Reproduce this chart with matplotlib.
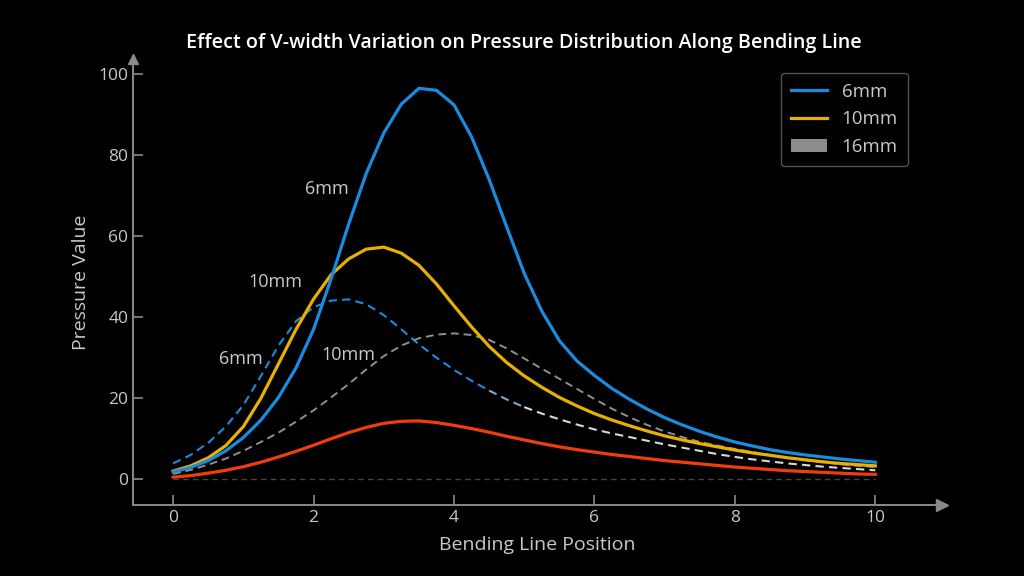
import numpy as np
import matplotlib
matplotlib.use('Agg')
from matplotlib import pyplot as plt
from matplotlib.lines import Line2D
from matplotlib.patches import Patch

plt.rcParams['font.family'] = ['Open Sans', 'DejaVu Sans']

# bending line position samples (0 .. 10, step 0.25)
pos = [i * 0.25 for i in range(41)]

# solid curves
v6 = [1.8, 2.9, 4.6, 7.0, 10.3, 14.6, 20.2, 27.5, 37, 49.5,
      63, 75.5, 85.5, 92.6, 96.5, 96.0, 92.4, 84.5, 74, 62.3,
      50.8, 41.5, 34.2, 29.2, 25.6, 22.4, 19.7, 17.3, 15.2, 13.4,
      11.8, 10.4, 9.2, 8.2, 7.3, 6.6, 6.0, 5.5, 5.0, 4.6, 4.2]
v10 = [2.0, 3.3, 5.3, 8.3, 13.0, 20.0, 28.5, 37, 44.5, 50.5,
       54.4, 56.8, 57.3, 55.8, 52.8, 48.2, 42.8, 37.6, 32.8, 28.8,
       25.5, 22.7, 20.2, 18.1, 16.2, 14.6, 13.2, 11.9, 10.7, 9.7,
       8.8, 8.0, 7.2, 6.5, 5.9, 5.3, 4.8, 4.3, 3.9, 3.6, 3.3]
v16 = [0.5, 0.9, 1.5, 2.2, 3.1, 4.2, 5.5, 6.9, 8.4, 10.0,
       11.5, 12.8, 13.8, 14.3, 14.4, 14.0, 13.3, 12.5, 11.6, 10.6,
       9.7, 8.8, 8.0, 7.3, 6.7, 6.1, 5.6, 5.1, 4.6, 4.2,
       3.8, 3.4, 3.0, 2.7, 2.4, 2.1, 1.9, 1.7, 1.5, 1.3, 1.2]

# dashed reference curves
d6 = [3.9, 6.0, 9.0, 13.0, 18.3, 25.5, 33, 39, 42.5, 44.1,
      44.4, 43.2, 40.5, 37, 33.3, 30, 27, 24.3, 21.9, 19.7,
      17.8, 16.2, 14.8, 13.5, 12.3, 11.3, 10.4, 9.5, 8.6, 7.8,
      7.0, 6.2, 5.5, 4.9, 4.4, 3.9, 3.5, 3.1, 2.8, 2.5, 2.2]
d10 = [1.3, 2.3, 3.6, 5.1, 7.0, 9.2, 11.5, 14.2, 17, 20.2,
       23.5, 27.1, 30.4, 33, 34.8, 35.7, 36, 35.6, 34.4, 32.3,
       29.8, 27.3, 24.8, 22.3, 19.8, 17.4, 15.3, 13.4, 11.8, 10.4,
       9.2, 8.3, 7.5, 6.7, 6.0, 5.3, 4.7, 4.2, 3.7, 3.3, 3.0]
zero = [0] * len(pos)

legend_labels = ['6mm', '10mm', '16mm']
xticks = [0, 2, 4, 6, 8, 10]
yticks = [0, 20, 40, 60, 80, 100]

c_blue = '#1a8ce0'
c_yellow = '#e8b000'
c_red = '#f23c0c'
c_axis = '#8a8a8a'
c_text = '#c8c8c8'

fig = plt.figure(figsize=(10.24, 5.76), dpi=100, facecolor='black')
ax = fig.add_axes([0.130, 0.123, 0.79, 0.775], facecolor='black')

# blue dash fades to white between x = 4.5 and 5
ax.plot(pos, zero, color='#444444', lw=1, ls=(0, (4, 3)))
ax.plot(pos[:19], d6[:19], color=c_blue, lw=1.5, ls=(0, (4, 2.5)))
ax.plot(pos[18:21], d6[18:21], color='#7aaad0', lw=1.5, ls=(0, (4, 2.5)))
ax.plot(pos[20:], d6[20:], color='#d8d8d8', lw=1.5, ls=(0, (4, 2.5)))
ax.plot(pos, d10, color='#909090', lw=1.4, ls=(0, (4, 2.5)))
ax.plot(pos, v16, color=c_red, lw=2.3)
ax.plot(pos, v10, color=c_yellow, lw=2.3)
ax.plot(pos, v6, color=c_blue, lw=2.3)

# legend: two lines and a grey patch
handles = [Line2D([], [], color=c_blue, lw=2.3),
           Line2D([], [], color=c_yellow, lw=2.3),
           Patch(facecolor='#8c8c8c', edgecolor='none')]
leg = ax.legend(handles, legend_labels, loc='upper right', bbox_to_anchor=(0.958, 0.969),
                borderaxespad=0, frameon=True, fontsize=13.5, labelcolor=c_text,
                handlelength=1.9, borderpad=0.55, labelspacing=0.5, handletextpad=0.8)
leg.get_frame().set_facecolor('black')
leg.get_frame().set_edgecolor('#666666')
leg.get_frame().set_linewidth(1.0)

# inline labels
ax.text(2.19, 71.6, '6mm', color=c_text, fontsize=13, ha='center', va='center')
ax.text(1.46, 48.6, '10mm', color=c_text, fontsize=13, ha='center', va='center')
ax.text(0.97, 29.6, '6mm', color=c_text, fontsize=13, ha='center', va='center')
ax.text(2.5, 30.6, '10mm', color=c_text, fontsize=13, ha='center', va='center')

ax.set_xlim(-0.57, 10.95)
ax.set_ylim(-6.4, 103.8)
ax.set_xticks(xticks)
ax.set_yticks(yticks)
ax.tick_params(colors=c_axis, labelcolor=c_text, labelsize=12.5, direction='in',
               length=7, width=1.2)
for s in ['top', 'right']:
    ax.spines[s].set_visible(False)
for s in ['left', 'bottom']:
    ax.spines[s].set_color(c_axis)
    ax.spines[s].set_linewidth(1.4)
ax.plot(1, 0, '>', color=c_axis, ms=9, transform=ax.transAxes, clip_on=False)
ax.plot(0, 1, '^', color=c_axis, ms=7, transform=ax.transAxes, clip_on=False)

ax.set_xlabel('Bending Line Position', color=c_text, fontsize=14, labelpad=7)
ax.set_ylabel('Pressure Value', color=c_text, fontsize=14, labelpad=6)
fig.text(0.512, 0.925, 'Effect of V-width Variation on Pressure Distribution Along Bending Line',
         color='white', fontsize=14.2, ha='center', va='center', fontweight='semibold')

fig.savefig('out.png', dpi=100, facecolor='black')
